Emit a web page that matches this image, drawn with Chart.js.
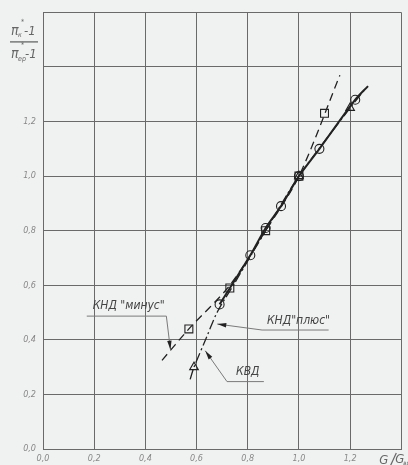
<!DOCTYPE html>
<html>
<head>
<meta charset="utf-8">
<script src="https://cdn.jsdelivr.net/npm/chart.js@4/dist/chart.umd.min.js"></script>
<style>
  html, body { margin: 0; padding: 0; background: #f0f1f1; }
  #c { display: block; }
</style>
</head>
<body>
<canvas id="c" width="408" height="465"></canvas>
<script>
// Relative flow G/G (x) against reduced pressure-ratio parameter (y)

// Measured points, КНД "минус" (squares)
const minusG  = [0.57, 0.73, 0.87, 1.00, 1.10];
const minusPi = [0.44, 0.59, 0.80, 1.00, 1.23];

// Measured points, КНД "плюс" (circles)
const plusG  = [0.69, 0.81, 0.87, 0.93, 1.00, 1.08, 1.22];
const plusPi = [0.53, 0.71, 0.81, 0.89, 1.00, 1.10, 1.28];

// Measured points, КВД (triangles)
const kvdG  = [0.59, 1.00, 1.20];
const kvdPi = [0.30, 1.00, 1.25];

// Faired curves through each group
const minusCurveG  = [0.465, 0.57, 0.73, 0.87, 1.00, 1.16];
const minusCurvePi = [0.325, 0.44, 0.60, 0.80, 1.00, 1.37];

const plusCurveG  = [0.69, 0.81, 0.87, 0.93, 1.00, 1.08, 1.22, 1.27];
const plusCurvePi = [0.53, 0.71, 0.81, 0.89, 1.00, 1.10, 1.28, 1.33];

const kvdCurveG  = [0.575, 0.59, 0.635, 0.68, 0.75, 0.87, 1.00, 1.20, 1.255];
const kvdCurvePi = [0.255, 0.30, 0.40, 0.50, 0.61, 0.80, 1.00, 1.25, 1.315];

// Axis ticks
const xTickValues = [0, 0.2, 0.4, 0.6, 0.8, 1.0, 1.2];
const yTickValues = [0, 0.2, 0.4, 0.6, 0.8, 1.0, 1.2];

// Curve captions: caption text, text anchor and leader path (axis units, last point = arrow tip)
const captionText = ['КНД "минус"', 'КНД"плюс"', 'КВД'];
const captionAnchor = [[0.194, 0.524], [0.875, 0.469], [0.754, 0.284]];
const captionLeader = [
  [[0.171, 0.487], [0.482, 0.487], [0.498, 0.364]],
  [[1.116, 0.436], [0.856, 0.436], [0.681, 0.458]],
  [[0.863, 0.247], [0.719, 0.247], [0.634, 0.360]]
];

const pts = (xs, ys) => xs.map((x, i) => ({ x: x, y: ys[i] }));

const FONT = '"DejaVu Sans Condensed", "Liberation Sans Narrow", "DejaVu Sans", sans-serif';
const INK = '#222';
const GRID = '#6a6a6a';
const BG = '#f0f1f1';

const fmt = v => v.toFixed(1).replace('.', ',');

const background = {
  id: 'background',
  beforeDraw(chart) {
    const c = chart.ctx;
    c.save();
    c.fillStyle = BG;
    c.fillRect(0, 0, chart.width, chart.height);
    c.restore();
  }
};

const captions = {
  id: 'captions',
  afterDatasetsDraw(chart) {
    const c = chart.ctx;
    const xs = chart.scales.x, ys = chart.scales.y;
    const px = v => xs.getPixelForValue(v);
    const py = v => ys.getPixelForValue(v);
    c.save();
    captionText.forEach((t, i) => {
      const path = captionLeader[i];
      c.strokeStyle = '#7a7a7a';
      c.lineWidth = 1;
      c.beginPath();
      path.forEach((p, k) => {
        if (k === 0) c.moveTo(px(p[0]), py(p[1]));
        else c.lineTo(px(p[0]), py(p[1]));
      });
      c.stroke();
      // arrow head at the tip
      const a = path[path.length - 2], b = path[path.length - 1];
      const x1 = px(a[0]), y1 = py(a[1]), x2 = px(b[0]), y2 = py(b[1]);
      const ang = Math.atan2(y2 - y1, x2 - x1);
      const L = 9, W = 2.2;
      c.fillStyle = INK;
      c.beginPath();
      c.moveTo(x2, y2);
      c.lineTo(x2 - L * Math.cos(ang) + W * Math.sin(ang), y2 - L * Math.sin(ang) - W * Math.cos(ang));
      c.lineTo(x2 - L * Math.cos(ang) - W * Math.sin(ang), y2 - L * Math.sin(ang) + W * Math.cos(ang));
      c.closePath();
      c.fill();
      // caption
      c.fillStyle = '#444';
      c.font = 'italic 12px ' + FONT;
      c.textAlign = 'left';
      c.textBaseline = 'middle';
      c.fillText(t, px(captionAnchor[i][0]), py(captionAnchor[i][1]));
    });
    c.restore();
  }
};

const axisTitles = {
  id: 'axisTitles',
  afterDraw(chart) {
    const c = chart.ctx;
    const area = chart.chartArea;
    c.save();
    c.fillStyle = '#666';
    c.strokeStyle = '#666';
    c.textBaseline = 'alphabetic';
    c.textAlign = 'left';
    // y title: fraction (π*к − 1)/(π*ер − 1)
    const L = area.left;
    c.font = 'italic 14px ' + FONT;
    c.fillText('π', L - 32, area.top + 23);
    c.font = 'italic 7px ' + FONT;
    c.fillText('к', L - 25, area.top + 25);
    c.fillText('*', L - 22, area.top + 12);
    c.font = 'italic 13px ' + FONT;
    c.fillText('-1', L - 19, area.top + 23);
    c.lineWidth = 1.3;
    c.beginPath();
    c.moveTo(L - 33, area.top + 29.5);
    c.lineTo(L - 5, area.top + 29.5);
    c.stroke();
    c.font = 'italic 14px ' + FONT;
    c.fillText('π', L - 32, area.top + 46);
    c.font = 'italic 7px ' + FONT;
    c.fillText('ер', L - 25, area.top + 49);
    c.fillText('*', L - 22, area.top + 35);
    c.font = 'italic 13px ' + FONT;
    c.fillText('-1', L - 18, area.top + 46);

    // x title: G/G with subscript running off the edge
    const R = area.right;
    c.font = 'italic 13px ' + FONT;
    c.fillText('G', R - 22, area.bottom + 15);
    c.lineWidth = 1.2;
    c.beginPath();
    c.moveTo(R - 11, area.bottom + 17);
    c.lineTo(R - 5, area.bottom + 4);
    c.stroke();
    c.fillText('G', R - 6, area.bottom + 14);
    c.font = 'italic 6px ' + FONT;
    c.fillText('вр', R + 2, area.bottom + 16);
    c.restore();
  }
};

const curveStyle = {
  showLine: true, pointRadius: 0, pointHoverRadius: 0,
  borderColor: INK, backgroundColor: 'transparent', tension: 0.3, fill: false
};
const markStyle = {
  showLine: false, pointBorderColor: INK, pointBackgroundColor: 'transparent',
  pointBorderWidth: 1.1, pointHoverRadius: 0
};

new Chart(document.getElementById('c'), {
  type: 'scatter',
  data: {
    datasets: [
      Object.assign({ label: 'КНД "минус" curve', data: pts(minusCurveG, minusCurvePi),
        borderWidth: 1.3, borderDash: [8, 5] }, curveStyle),
      Object.assign({ label: 'КНД "плюс" curve', data: pts(plusCurveG, plusCurvePi),
        borderWidth: 2 }, curveStyle),
      Object.assign({ label: 'КВД curve', data: pts(kvdCurveG, kvdCurvePi),
        borderWidth: 1.3, borderDash: [10, 3, 2, 3] }, curveStyle),
      Object.assign({ label: 'КНД "минус"', data: pts(minusG, minusPi),
        pointStyle: 'rect', pointRadius: 5.6 }, markStyle),
      Object.assign({ label: 'КНД "плюс"', data: pts(plusG, plusPi),
        pointStyle: 'circle', pointRadius: 4.5 }, markStyle),
      Object.assign({ label: 'КВД', data: pts(kvdG, kvdPi),
        pointStyle: 'triangle', pointRadius: 5 }, markStyle)
    ]
  },
  options: {
    responsive: false,
    devicePixelRatio: 1,
    animation: false,
    events: [],
    layout: { padding: { top: 9, right: 5, left: 0, bottom: 0 } },
    plugins: { legend: { display: false }, tooltip: { enabled: false } },
    scales: {
      x: {
        type: 'linear', min: 0, max: 1.4,
        afterFit: s => { s.height = 16; },
        afterBuildTicks: s => { s.ticks = [0, 0.2, 0.4, 0.6, 0.8, 1.0, 1.2, 1.4].map(v => ({ value: v })); },
        grid: { color: GRID, lineWidth: 1, drawTicks: false },
        border: { color: GRID, width: 1 },
        ticks: {
          padding: 4, color: '#888', maxRotation: 0, autoSkip: false,
          font: { family: FONT, size: 9, style: 'italic' },
          callback: v => xTickValues.some(t => Math.abs(t - v) < 1e-6) ? fmt(v) : ''
        }
      },
      y: {
        type: 'linear', min: 0, max: 1.6,
        afterFit: s => { s.width = 43; },
        afterBuildTicks: s => { s.ticks = [0, 0.2, 0.4, 0.6, 0.8, 1.0, 1.2, 1.4, 1.6].map(v => ({ value: v })); },
        grid: { color: GRID, lineWidth: 1, drawTicks: false },
        border: { color: GRID, width: 1 },
        ticks: {
          padding: 7, color: '#888', autoSkip: false,
          font: { family: FONT, size: 9, style: 'italic' },
          callback: v => yTickValues.some(t => Math.abs(t - v) < 1e-6) ? fmt(v) : ''
        }
      }
    }
  },
  plugins: [background, captions, axisTitles]
});
</script>
</body>
</html>
